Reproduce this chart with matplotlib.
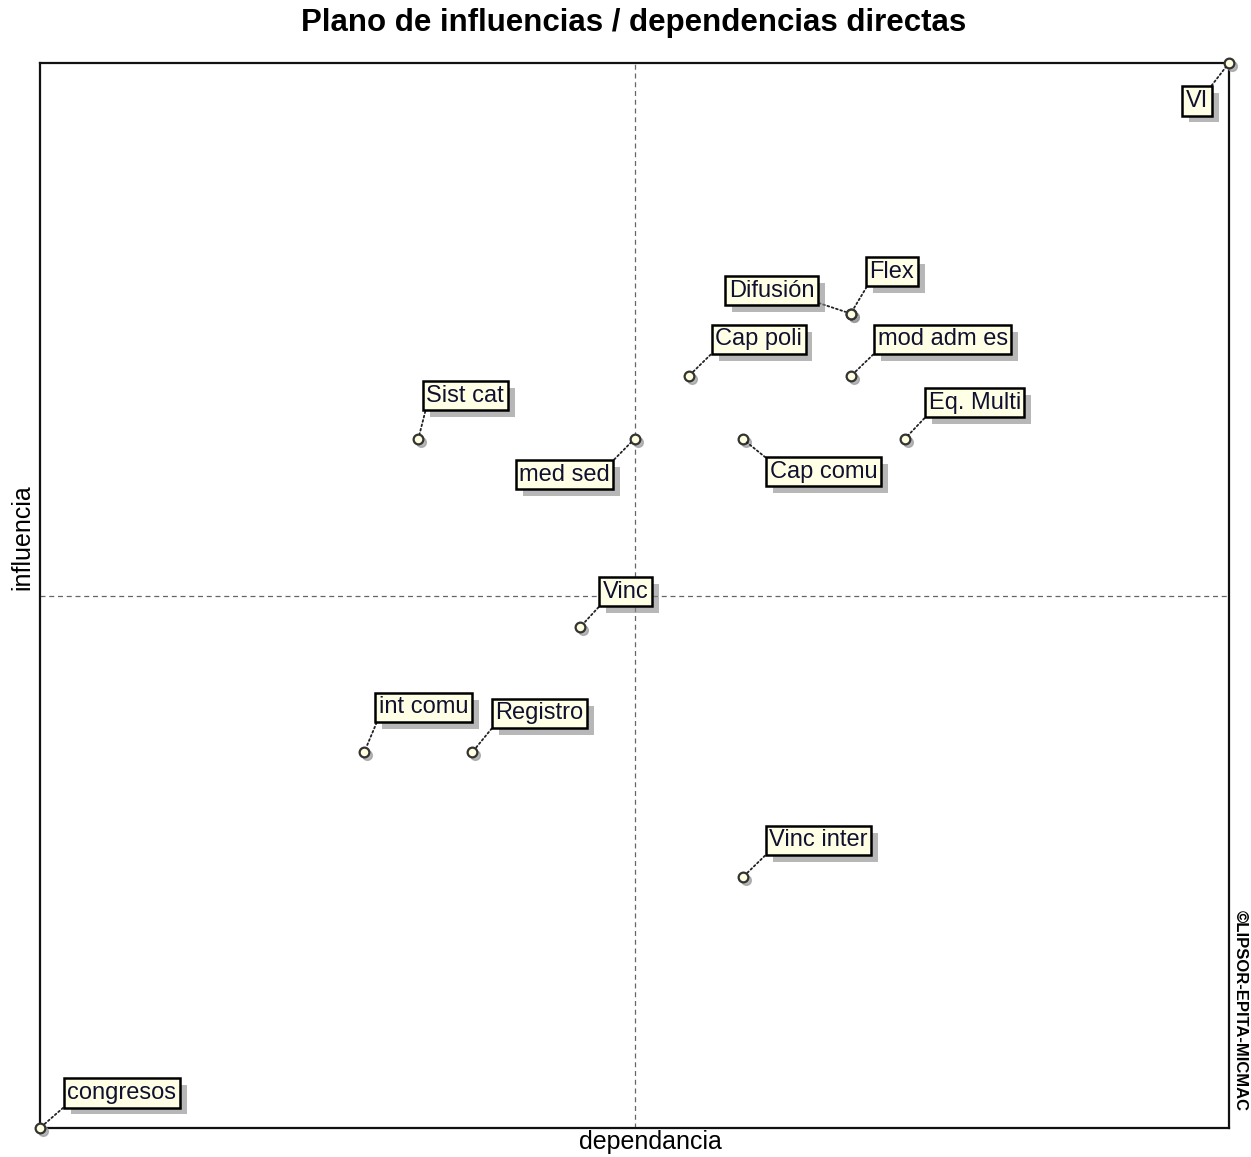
import matplotlib
matplotlib.use("Agg")
import matplotlib.pyplot as plt
import matplotlib.patheffects as pe
from matplotlib.transforms import offset_copy

# === DATA ===
# variables of the direct influence / dependence map
names = ['VI', 'Flex', 'Difusión', 'Cap poli', 'mod adm es', 'Eq. Multi',
         'Sist cat', 'med sed', 'Cap comu', 'Vinc', 'int comu', 'Registro',
         'Vinc inter', 'congresos']
dependencia = [22, 15, 15, 12, 15, 16, 7, 11, 13, 10, 6, 8, 13, 0]
influencia = [17, 13, 13, 12, 12, 11, 11, 11, 11, 8, 6, 6, 4, 0]

# label offsets in pixels (dx, dy) and corner of box the leader goes to
offsets = [(-32, -38), (41, 42), (-79, 23), (70, 37), (92, 37), (70, 36),
           (47, 43), (-70, -36), (81, -33), (45, 35), (59, 45), (67, 39),
           (76, 37), (82, 35)]
corners = [(1, 1), (0, 0), (1, 0), (0, 0), (0, 0), (0, 0),
           (0, 0), (1, 1), (0, 1), (0, 0), (0, 0), (0, 0),
           (0, 0), (0, 0)]

x_mid = (max(dependencia) + min(dependencia)) / 2
y_mid = (max(influencia) + min(influencia)) / 2

# === PLOT ===
plt.rcParams['font.family'] = ['Liberation Sans', 'DejaVu Sans']

fig = plt.figure(figsize=(12.51, 11.57), dpi=100)
ax = fig.add_axes([40 / 1251, 29 / 1157, 1189 / 1251, 1065 / 1157])
ax.set_xlim(min(dependencia), max(dependencia))
ax.set_ylim(min(influencia), max(influencia))
ax.set_xticks([])
ax.set_yticks([])
for s in ax.spines.values():
    s.set_linewidth(1.6)
    s.set_color('#111111')

ax.axvline(x_mid, color='#666666', lw=0.9, ls=(0, (4, 3)), zorder=1)
ax.axhline(y_mid, color='#666666', lw=0.9, ls=(0, (4, 3)), zorder=1)

shadow = [pe.withSimplePatchShadow(offset=(5, -5), shadow_rgbFace='#888888', alpha=0.6)]

# points with a small gray shadow
sh_tr = offset_copy(ax.transData, fig=fig, x=3, y=-3, units='dots')
ax.plot(dependencia, influencia, 'o', ms=7, mfc='#999999', mec='#999999',
        transform=sh_tr, clip_on=False, zorder=3, alpha=0.7)
ax.plot(dependencia, influencia, 'o', ms=7, mfc='#ffffe0', mec='#333333',
        mew=1.6, clip_on=False, zorder=4)

for name, xv, yv, (dx, dy), rp in zip(names, dependencia, influencia, offsets, corners):
    t = ax.annotate(name, (xv, yv), xytext=(dx, dy), textcoords='offset pixels',
                    ha='center', va='center', fontsize=17, color='#101030',
                    bbox=dict(boxstyle='square,pad=0.15', fc='#ffffe6', ec='black', lw=1.8),
                    arrowprops=dict(arrowstyle='-', color='#222222', lw=1.3,
                                    ls=(0, (1, 1.5)), shrinkA=0, shrinkB=4,
                                    relpos=rp),
                    annotation_clip=False, zorder=5)
    t.get_bbox_patch().set_path_effects(shadow)
    t.arrow_patch.set_path_effects(shadow)

fig.text(634 / 1251, 1 - 23 / 1157, 'Plano de influencias / dependencias directas',
         ha='center', va='center', fontsize=22.5, fontweight='bold')
fig.text(650 / 1251, 1 - 1142 / 1157, 'dependancia', ha='center', va='center', fontsize=18)
fig.text(22 / 1251, 1 - 537 / 1157, 'influencia', ha='center', va='center',
         fontsize=18, rotation=90)
fig.text(1240 / 1251, 1 - 1010 / 1157, '©LIPSOR-EPITA-MICMAC', ha='center', va='center',
         fontsize=12, fontweight='bold', rotation=-90)

fig.savefig('out.png', dpi=100)
